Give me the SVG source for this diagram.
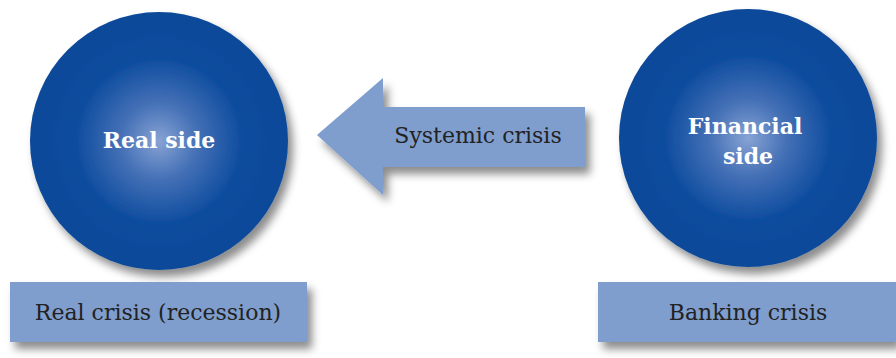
<svg xmlns="http://www.w3.org/2000/svg" width="896" height="358" viewBox="0 0 896 358">
<defs>
<radialGradient id="ball" cx="50%" cy="50%" r="50%">
<stop offset="0" stop-color="#87A3D4"/>
<stop offset="0.3" stop-color="#4470B6"/>
<stop offset="0.65" stop-color="#0D4C9E"/>
<stop offset="1" stop-color="#094899"/>
</radialGradient>
<filter id="sh" x="-20%" y="-20%" width="150%" height="150%">
<feDropShadow dx="5" dy="7" stdDeviation="4" flood-color="#000" flood-opacity="0.45"/>
</filter>
</defs>
<style>
.node-c{fill:url(#ball);filter:url(#sh)}
.box{fill:#7F9ECD;filter:url(#sh)}
.ct{font-family:"DejaVu Serif","Liberation Serif",serif;font-weight:bold;font-size:22px;fill:#fff;text-anchor:middle}
.bt{font-family:"DejaVu Serif","Liberation Serif",serif;font-size:22px;fill:#222;text-anchor:middle}
</style>
<rect width="896" height="358" fill="#fff"/>
<g id="real-side">
<circle class="node-c" cx="159" cy="141" r="129"/>
<text class="ct" x="159" y="148">Real side</text>
</g>
<g id="financial-side">
<circle class="node-c" cx="748" cy="138" r="129"/>
<text class="ct" x="745" y="134">Financial</text>
<text class="ct" x="748" y="164">side</text>
</g>
<g id="connectors">
<polygon class="box" points="317,135 383,78 383,107 585,107 585,167 383,167 383,195"/>
<text class="bt" x="478" y="143">Systemic crisis</text>
</g>
<g id="real-crisis">
<rect class="box" x="10" y="282" width="297" height="60"/>
<text class="bt" x="158" y="320">Real crisis (recession)</text>
</g>
<g id="banking-crisis">
<rect class="box" x="598" y="282" width="298" height="60"/>
<text class="bt" x="748" y="320">Banking crisis</text>
</g>
</svg>
